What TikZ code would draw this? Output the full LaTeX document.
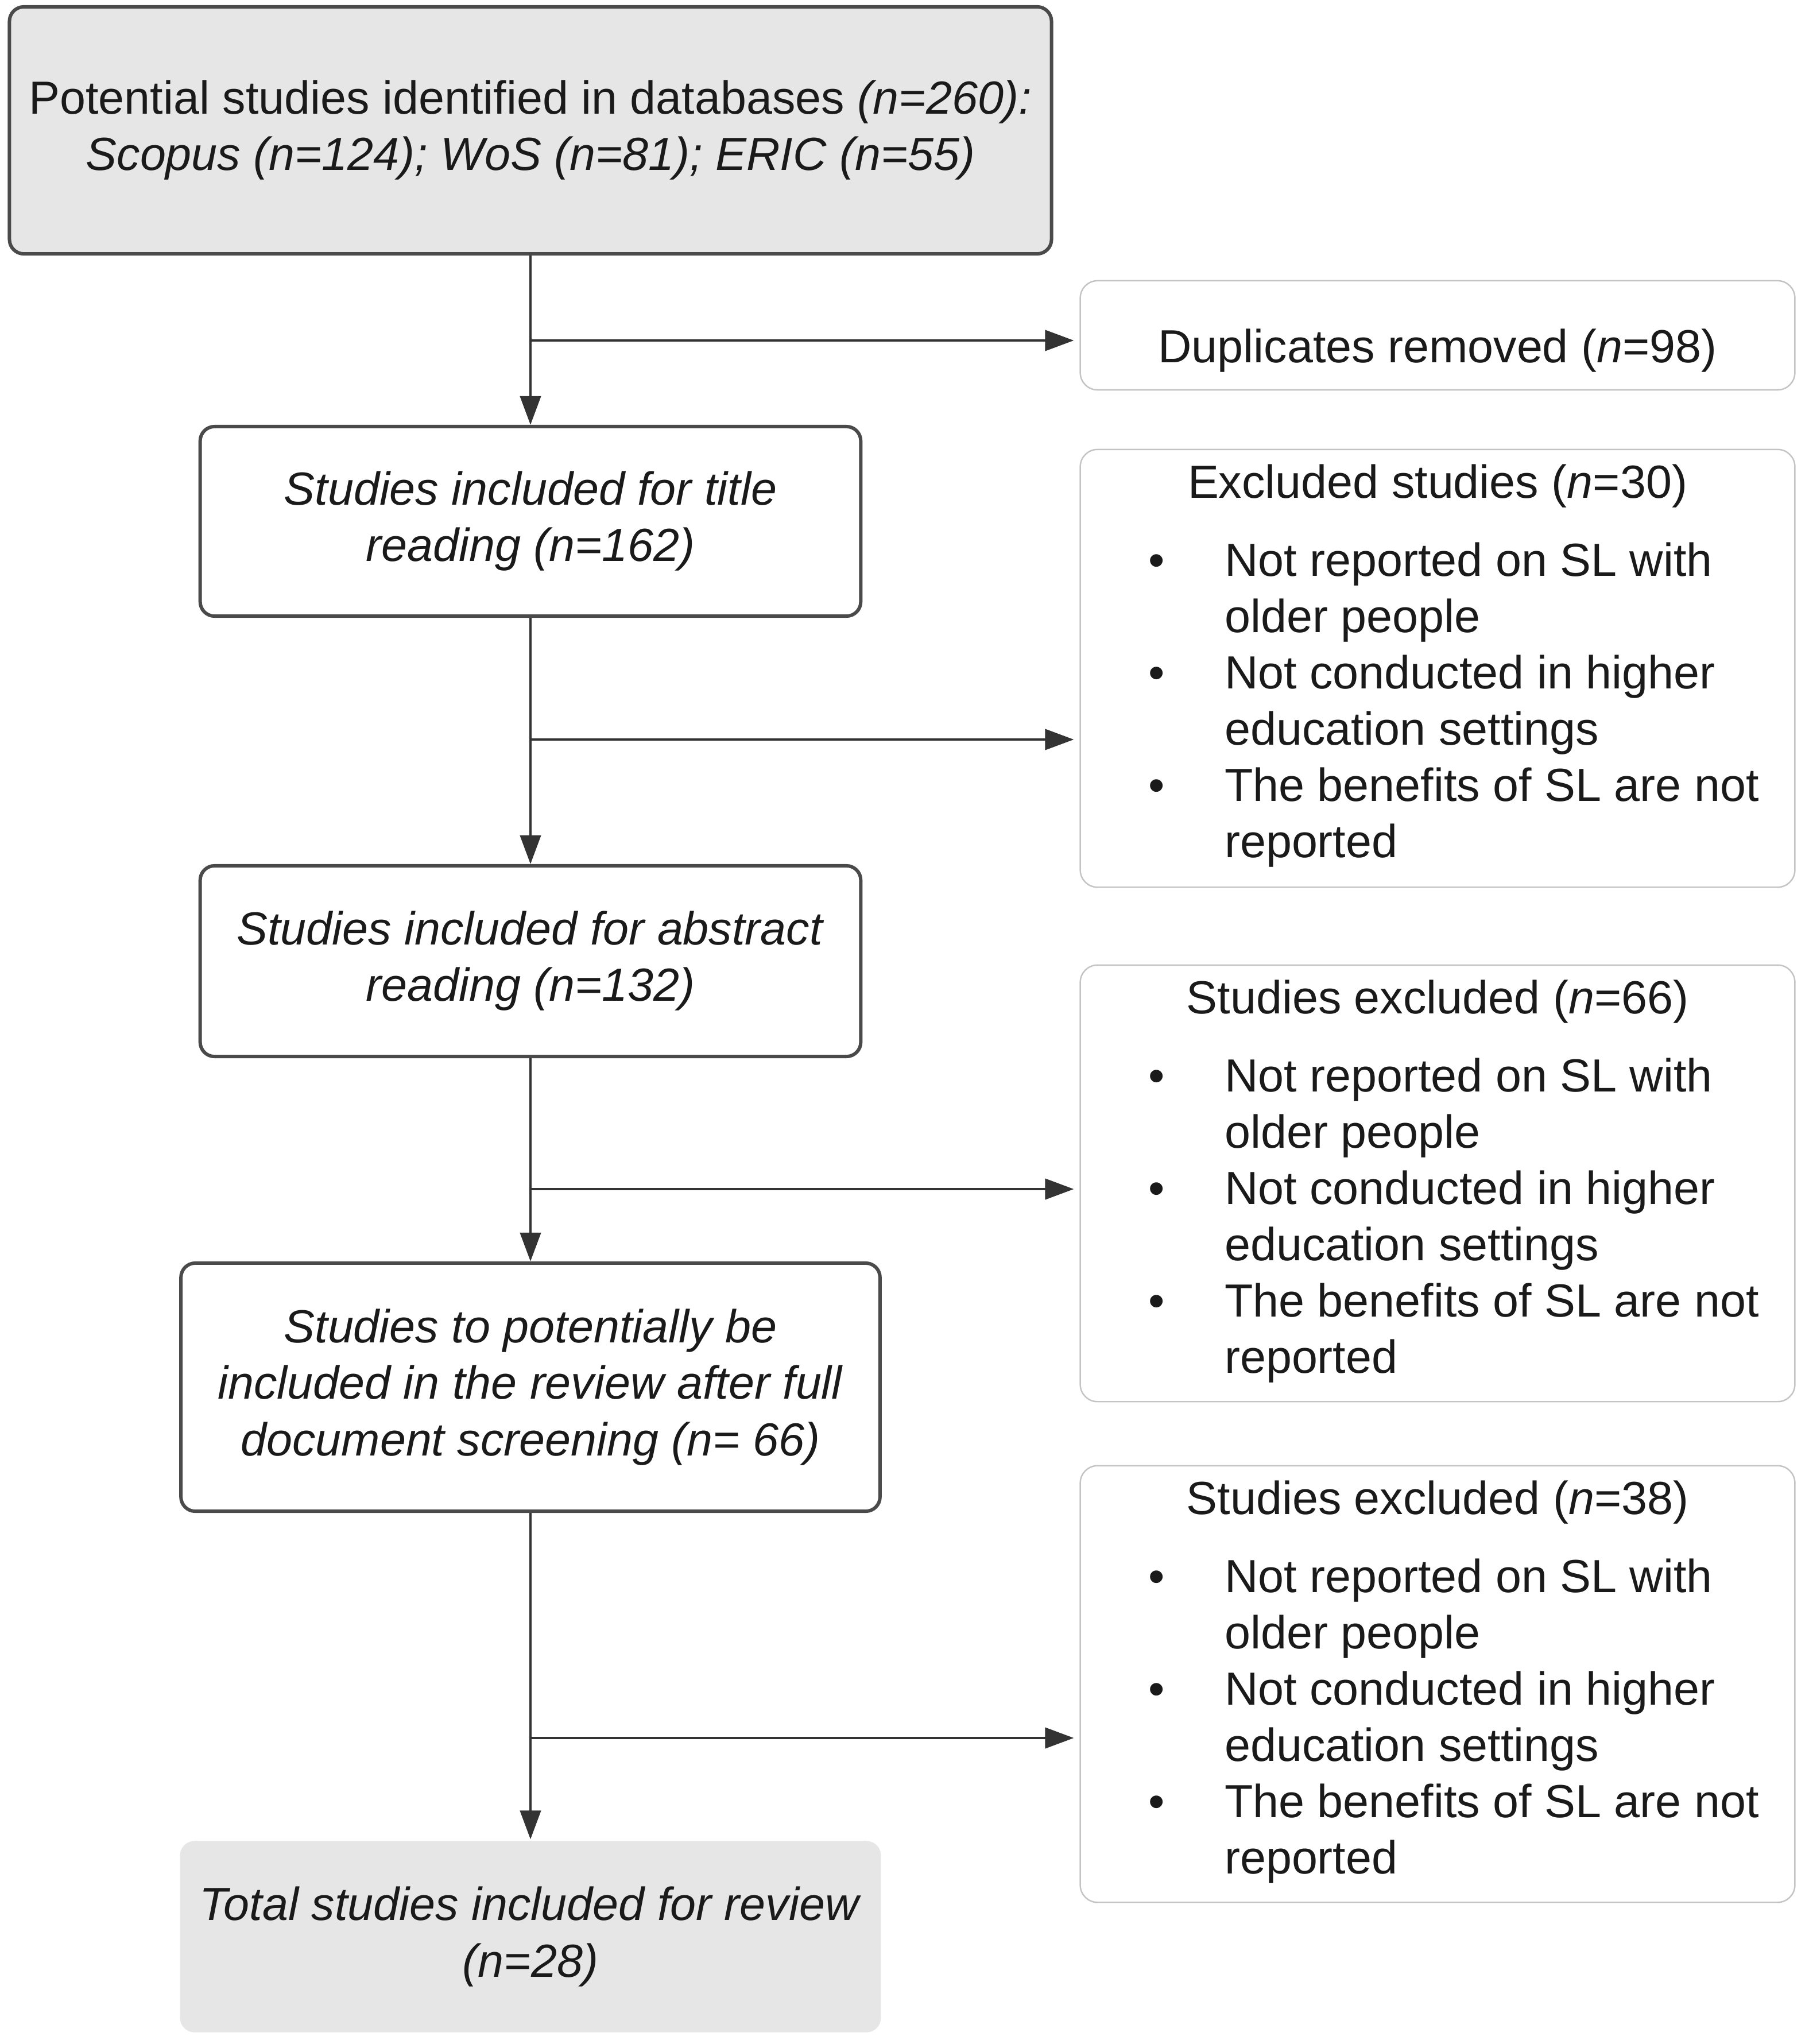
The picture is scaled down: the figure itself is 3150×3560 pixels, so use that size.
\documentclass[tikz,border=0pt]{standalone}
\usepackage{fontspec}
\setmainfont{Liberation Sans}
\usetikzlibrary{arrows.meta,calc}
\definecolor{boxgray}{HTML}{E6E6E6}
\definecolor{edgedark}{HTML}{4A4A4A}
\definecolor{edgelight}{HTML}{C4C4C4}
\definecolor{linecol}{HTML}{333333}
\definecolor{txt}{HTML}{1A1A1A}
\newcommand{\exclitems}[1]{%
  \foreach \k/\s in {0/{Not reported on SL with},1/{older people},2/{Not conducted in higher},3/{education settings},4/{The benefits of SL are not},5/{reported}}{
    \node[anchor=base west, inner sep=0pt] (#1l\k) at ($(#1.north west)+(252,222+98*\k)$) {\s};
  }
  \foreach \k in {0,2,4}{
    \node[anchor=base, inner sep=0pt] (#1b\k) at ($(#1.north west)+(134,222+98*\k)$) {\textbullet};
  }
}
\begin{document}
\begin{tikzpicture}[x=0.01cm,y=-0.01cm,
  every node/.style={font=\fontsize{23}{27.9}\selectfont, text=txt},
  flowbox/.style={draw=edgedark, line width=1.7pt, rounded corners=0.25cm, align=center, inner sep=0pt},
  exclbox/.style={draw=edgelight, line width=0.7pt, rounded corners=0.3cm, inner sep=0pt, minimum width=12.44cm},
  arr/.style={draw=linecol, line width=1.2pt, -{Triangle[length=0.5cm,width=0.36cm]}},
  plain/.style={draw=linecol, line width=1.2pt}
]
\useasboundingbox[fill=white] (0,0) rectangle (3150,3560);

% main column
\node[flowbox, fill=boxgray, minimum width=18.14cm, minimum height=4.3cm] (n1) at (924,227)
  {Potential studies identified in databases \textit{(n=260):}\\ \textit{Scopus (n=124); WoS (n=81); ERIC (n=55)}};
\node[flowbox, fill=white, minimum width=11.5cm, minimum height=3.3cm] (n2) at (924,908)
  {\textit{Studies included for title}\\ \textit{reading (n=162)}};
\node[flowbox, fill=white, minimum width=11.5cm, minimum height=3.32cm] (n3) at (924,1674)
  {\textit{Studies included for abstract}\\ \textit{reading (n=132)}};
\node[flowbox, fill=white, minimum width=12.17cm, minimum height=4.32cm] (n4) at (924,2416)
  {\textit{Studies to potentially be}\\ \textit{included in the review after full}\\ \textit{document screening (n= 66)}};
\node[flowbox, draw=none, fill=boxgray, minimum width=12.2cm, minimum height=3.33cm] (n5) at (924,3373)
  {\textit{Total studies included for review}\\ \textit{(n=28)}};

% side boxes
\node[exclbox, minimum height=1.9cm] (d) at (2504,584) {};
\node[inner sep=0pt] (dt) at ($(d.center)+(0,27)$) {Duplicates removed (\textit{n}=98)};
\node[exclbox, minimum height=7.62cm] (e1) at (2504,1164) {};
\node[exclbox, minimum height=7.6cm] (e2) at (2504,2061) {};
\node[exclbox, minimum height=7.6cm] (e3) at (2504,2933) {};

\node[anchor=base, inner sep=0pt] (e1t) at ($(e1.north)+(0,86)$) {Excluded studies (\textit{n}=30)};
\node[anchor=base, inner sep=0pt] (e2t) at ($(e2.north)+(0,86)$) {Studies excluded (\textit{n}=66)};
\node[anchor=base, inner sep=0pt] (e3t) at ($(e3.north)+(0,86)$) {Studies excluded (\textit{n}=38)};
\exclitems{e1}
\exclitems{e2}
\exclitems{e3}

% branch points
\coordinate (j1) at (924,593);
\coordinate (j2) at (924,1288);
\coordinate (j3) at (924,2071);
\coordinate (j4) at (924,3027);

\draw[arr] (n1.south) -- (n2.north);
\draw[arr] (n2.south) -- (n3.north);
\draw[arr] (n3.south) -- (n4.north);
\draw[arr] (n4.south) -- (n5.north);
\draw[arr, shorten >=0.1cm] (j1) -- (j1 -| d.west);
\draw[arr, shorten >=0.1cm] (j2) -- (j2 -| e1.west);
\draw[arr, shorten >=0.1cm] (j3) -- (j3 -| e2.west);
\draw[arr, shorten >=0.1cm] (j4) -- (j4 -| e3.west);
\end{tikzpicture}
\end{document}
